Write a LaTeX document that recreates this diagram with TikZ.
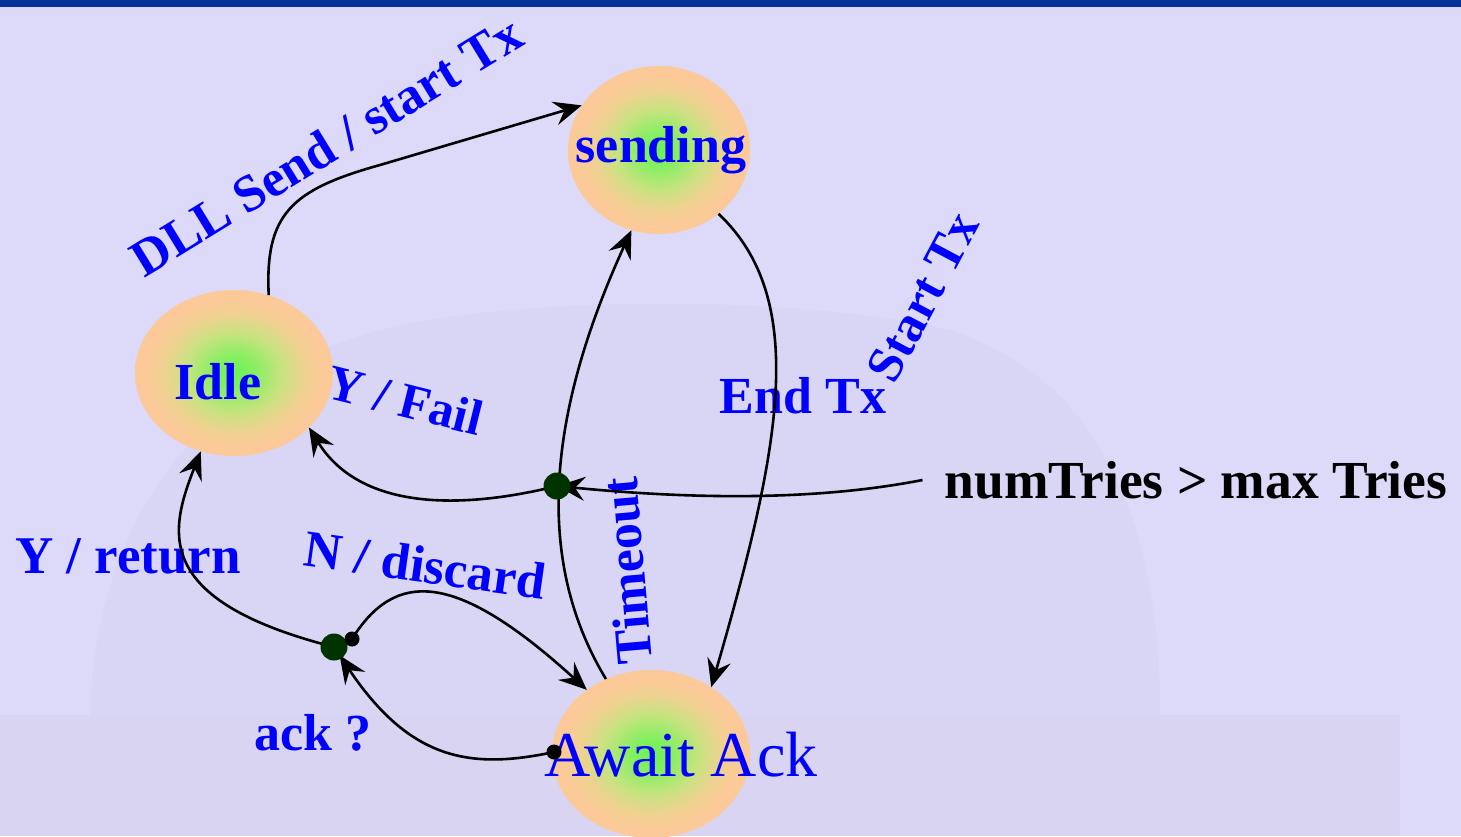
\documentclass[tikz,border=0pt]{standalone}
\usepackage{fontspec}
\setmainfont{Liberation Serif}
\usetikzlibrary{shapes.geometric,arrows.meta}

\definecolor{paper}{RGB}{221,217,249}
\definecolor{dome}{RGB}{217,213,244}
\definecolor{ground}{RGB}{216,212,241}
\definecolor{band}{RGB}{0,51,153}
\definecolor{knot}{RGB}{0,51,0}

% green core fading into a peach rim
\pgfdeclareradialshading{blob}{\pgfpoint{0bp}{0bp}}{%
  rgb(0bp)=(0.42,0.95,0.33);
  rgb(5bp)=(0.52,0.94,0.38);
  rgb(12bp)=(0.78,0.89,0.50);
  rgb(18bp)=(0.94,0.82,0.57);
  rgb(22.5bp)=(0.99,0.79,0.60);
  rgb(50bp)=(0.99,0.79,0.60)}

\tikzset{
  state/.style={ellipse, shade, shading=blob, draw=none, inner sep=0pt,
                minimum width=198pt, minimum height=166pt},
  lbl/.style={text=blue, inner sep=0pt, font=\fontsize{52}{52}\selectfont\bfseries},
  caption/.style={text=blue, inner sep=0pt, font=\fontsize{52}{52}\selectfont\bfseries},
  wire/.style={line width=2.6pt, black},
  tip/.style={-{Stealth[length=28pt,width=24pt,inset=10pt]}},
  knotdot/.style={circle, fill=knot, minimum size=27pt, inner sep=0pt},
  pin/.style={circle, fill=black, minimum size=15pt, inner sep=0pt}
}

\begin{document}
\begin{tikzpicture}[x=1pt,y=-1pt]
  % canvas and title rule
  \fill[paper] (0,0) rectangle (1461,836);
  \useasboundingbox (0,0) rectangle (1461,836);
  \fill[band] (0,0) rectangle (1461,7);

  % faint dome in the backdrop
  \fill[dome] (90,715) .. controls (95,520) and (200,380) .. (380,330)
              .. controls (520,295) and (800,295) .. (950,330)
              .. controls (1100,380) and (1160,520) .. (1160,715) -- cycle;
  \fill[ground] (0,715) rectangle (1400,836);

  % states
  \node[state, minimum width=182pt, minimum height=168pt] (send) at (659,150) {};
  \node[state] (idle) at (234,373) {};
  \node[state, minimum height=168pt] (await) at (651,754) {};

  \node[lbl] (sendtxt) at (661,150) {sending};
  \node[lbl] (idletxt) at (218,382) {Idle};
  \node[text=blue, inner sep=0pt, font=\fontsize{64}{64}\selectfont] (awaittxt) at (681,755) {Await Ack};

  % transition labels
  \node[caption, rotate=31.5] (lsend) at (326,146) {DLL Send / start Tx};
  \node[caption, rotate=62, font=\fontsize{51}{51}\selectfont\bfseries] (lstart) at (923,297) {Start Tx};
  \node[caption] (lend) at (803,396) {End Tx};
  \node[caption, rotate=-14, font=\fontsize{50}{50}\selectfont\bfseries] (lfail) at (405,400) {Y / Fail};
  \node[caption, rotate=-8] (ldiscard) at (425,565) {N / discard};
  \node[caption, font=\fontsize{53}{53}\selectfont\bfseries] (lreturn) at (128,556) {Y / return};
  \node[caption] (lack) at (313,733) {ack ?};
  \node[caption, rotate=95] (ltimeout) at (627,571) {Timeout};
  \node[inner sep=0pt, inner xsep=22pt, font=\fontsize{53.5}{53.5}\selectfont\bfseries] (tries) at (1196,480) {numTries > max Tries};

  % junction points
  \coordinate (forkpt) at (557,486);
  \coordinate (ackqpt) at (334,647);
  \coordinate (ackoutpt) at (352,639);
  \coordinate (ackinpt) at (554,752);

  % transitions
  \draw[wire, tip] (idle.66) .. controls (265,215) and (290,190) .. (380,165) -- (send.150);
  \draw[wire, tip] (send.313) .. controls (810,300) and (780,450) .. (await.48);
  \draw[wire, tip] (await.121) .. controls (540,570) and (540,430) .. (send.251);
  \draw[wire, tip] (tries.west) .. controls (820,500) and (700,500) .. (forkpt);
  \draw[wire, tip] (forkpt) .. controls (460,510) and (360,510) .. (idle.324);
  \draw[wire, tip, shorten >=10pt] (ackinpt) .. controls (470,770) and (410,760) .. (ackqpt);
  \draw[wire, tip] (ackqpt) .. controls (150,600) and (170,530) .. (idle.247);
  \draw[wire, tip] (ackoutpt) .. controls (395,570) and (455,570) .. (await.135);

  % junction dots on top of the wires
  \node[knotdot] (fork) at (forkpt) {};
  \node[knotdot] (ackq) at (ackqpt) {};
  \node[pin] (ackout) at (ackoutpt) {};
  \node[pin] (ackin) at (ackinpt) {};
\end{tikzpicture}
\end{document}
